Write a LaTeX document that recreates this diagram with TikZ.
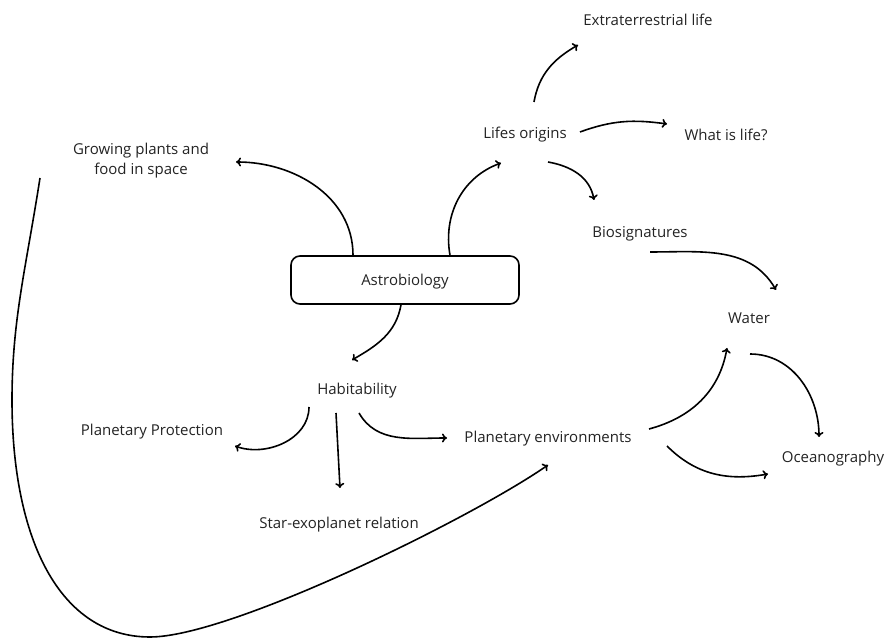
\documentclass[tikz,border=0pt]{standalone}
\usepackage{fontspec}
\setmainfont{Open Sans}
\usepackage{tikz}
\usetikzlibrary{arrows.meta,positioning}
\definecolor{abtext}{RGB}{35,35,35}
\tikzset{arrow/.style = {line width=1.6pt,-{To[length=5pt,width=9pt]},color=black}}

\begin{document}
\begin{tikzpicture}[
    x=1pt, y=1pt,
    topic/.style={font=\fontsize{15}{20}\selectfont, text=abtext, align=center, inner sep=0pt},
    hub/.style={topic, draw=black, line width=1.6pt, rounded corners=9pt, minimum width=228pt, minimum height=48pt, text depth=1pt}
]
\useasboundingbox (0,0) rectangle (886,639);
% Topics
\node[hub] (astro) at (405,359) {Astrobiology};
\node[topic] (extra) at (648,619) {Extraterrestrial life};
\node[topic] (lorig) at (525,504) {Lifes origins};
\node[topic] (whatis) at (726,504) {What is life?};
\node[topic] (grow) at (141,478) {Growing plants and\\food in space};
\node[topic] (biosig) at (640,405) {Biosignatures};
\node[topic] (water) at (749,321) {Water};
\node[topic] (habit) at (357,248) {Habitability};
\node[topic] (pprot) at (152,207) {Planetary Protection};
\node[topic] (penv) at (548,200) {Planetary environments};
\node[topic] (ocean) at (833,180) {Oceanography};
\node[topic] (starex) at (339,114) {Star-exoplanet relation};

% Connectors
\draw[arrow] ([xshift=-52pt]astro.north) to[out=90,in=0] ([shift={(95,-1)}]grow.center);
\draw[arrow] ([xshift=45pt]astro.north) to[out=100,in=200] ([shift={(-24,-28)}]lorig.center);
\draw[arrow] ([xshift=-4pt]astro.south) to[out=-100,in=30] ([shift={(-5,31)}]habit.center);
\draw[arrow] ([shift={(9,33)}]lorig.center) to[out=80,in=210] ([shift={(-70,-25)}]extra.center);
\draw[arrow] ([shift={(55,3)}]lorig.center) to[out=20,in=172] ([shift={(-59,11)}]whatis.center);
\draw[arrow] ([shift={(23,-27)}]lorig.center) to[out=-10,in=100] ([shift={(-46,34)}]biosig.center);
\draw[arrow] ([shift={(10,-18)}]biosig.center) to[out=0,in=120] ([shift={(27,28)}]water.center);
\draw[arrow] ([shift={(-48,-16)}]habit.center) to[out=-90,in=-20] ([shift={(83,-14)}]pprot.center);
\draw[arrow] ([shift={(-21,-22)}]habit.center) -- ([shift={(1,37)}]starex.center);
\draw[arrow] ([shift={(2,-22)}]habit.center) to[out=-60,in=180] ([shift={(-101,1)}]penv.center);
\draw[arrow] ([shift={(101,10)}]penv.center) to[out=15,in=-100] ([shift={(-22,-30)}]water.center);
\draw[arrow] ([shift={(1,-36)}]water.center) to[out=0,in=90] ([shift={(-14,22)}]ocean.center);
\draw[arrow] ([shift={(119,-7)}]penv.center) to[out=-45,in=190] ([shift={(-65,-15)}]ocean.center);
% long loop round the left side
\draw[arrow] ([shift={(-101,-17)}]grow.center) .. controls +(-14,-90) and +(0,80) .. (12,239)
    .. controls +(0,-140) and +(-90,0) .. (150,2)
    .. controls +(80,0) and +(-78,-54) .. ([shift={(0,-26)}]penv.center);
\end{tikzpicture}
\end{document}
